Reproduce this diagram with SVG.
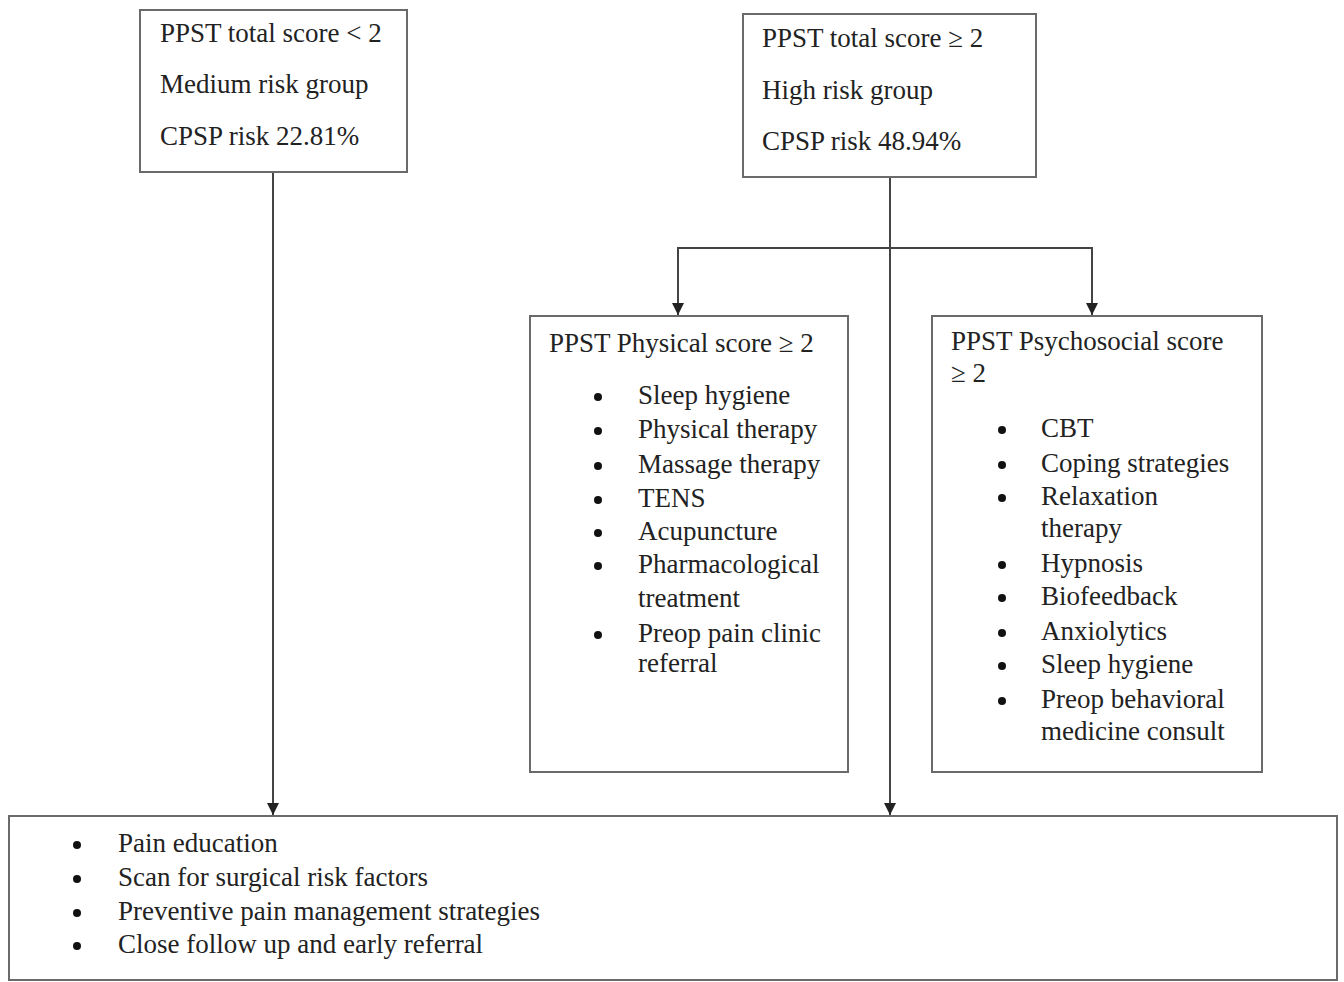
<svg xmlns="http://www.w3.org/2000/svg" width="1344" height="982" viewBox="0 0 1344 982">
<defs>
<style>
.box{fill:#fff;stroke:#6a6a6a;stroke-width:2}
.t{font-family:"Liberation Serif","Times New Roman",serif;font-size:27px;fill:#222}
.c{fill:none;stroke:#444;stroke-width:2}
.b{fill:#111}
</style>
<marker id="ah" viewBox="0 0 10 10" refX="10" refY="5" markerWidth="6" markerHeight="6" markerUnits="strokeWidth" orient="auto">
<path d="M0,0 L10,5 L0,10 Z" fill="#222"/>
</marker>
</defs>
<rect width="1344" height="982" fill="#fff"/>
<g id="connectors">
<line class="c" x1="273" y1="172" x2="273" y2="815" marker-end="url(#ah)"/>
<line class="c" x1="890" y1="177" x2="890" y2="815" marker-end="url(#ah)"/>
<polyline class="c" points="678,315 678,248 1092,248 1092,315" fill="none"/>
<line class="c" x1="678" y1="290" x2="678" y2="315" marker-end="url(#ah)"/>
<line class="c" x1="1092" y1="290" x2="1092" y2="315" marker-end="url(#ah)"/>
</g>
<g id="medium">
<rect class="box" x="140" y="10" width="267" height="162"/>
<text class="t" x="160" y="42">PPST total score &lt; 2</text>
<text class="t" x="160" y="93">Medium risk group</text>
<text class="t" x="160" y="145">CPSP risk 22.81%</text>
</g>
<g id="high">
<rect class="box" x="743" y="14" width="293" height="163"/>
<text class="t" x="762" y="47">PPST total score ≥ 2</text>
<text class="t" x="762" y="99">High risk group</text>
<text class="t" x="762" y="150">CPSP risk 48.94%</text>
</g>
<g id="physical">
<rect class="box" x="530" y="316" width="318" height="456"/>
<text class="t" x="549" y="352">PPST Physical score ≥ 2</text>
<circle class="b" cx="598" cy="397" r="4"/><text class="t" x="638" y="404">Sleep hygiene</text>
<circle class="b" cx="598" cy="431" r="4"/><text class="t" x="638" y="438">Physical therapy</text>
<circle class="b" cx="598" cy="466" r="4"/><text class="t" x="638" y="473">Massage therapy</text>
<circle class="b" cx="598" cy="500" r="4"/><text class="t" x="638" y="507">TENS</text>
<circle class="b" cx="598" cy="533" r="4"/><text class="t" x="638" y="540">Acupuncture</text>
<circle class="b" cx="598" cy="566" r="4"/><text class="t" x="638" y="573">Pharmacological</text>
<text class="t" x="638" y="607">treatment</text>
<circle class="b" cx="598" cy="635" r="4"/><text class="t" x="638" y="642">Preop pain clinic</text>
<text class="t" x="638" y="672">referral</text>
</g>
<g id="psychosocial">
<rect class="box" x="932" y="316" width="330" height="456"/>
<text class="t" x="951" y="350">PPST Psychosocial score</text>
<text class="t" x="951" y="382">≥ 2</text>
<circle class="b" cx="1002" cy="430" r="4"/><text class="t" x="1041" y="437">CBT</text>
<circle class="b" cx="1002" cy="465" r="4"/><text class="t" x="1041" y="472">Coping strategies</text>
<circle class="b" cx="1002" cy="498" r="4"/><text class="t" x="1041" y="505">Relaxation</text>
<text class="t" x="1041" y="537">therapy</text>
<circle class="b" cx="1002" cy="565" r="4"/><text class="t" x="1041" y="572">Hypnosis</text>
<circle class="b" cx="1002" cy="598" r="4"/><text class="t" x="1041" y="605">Biofeedback</text>
<circle class="b" cx="1002" cy="633" r="4"/><text class="t" x="1041" y="640">Anxiolytics</text>
<circle class="b" cx="1002" cy="666" r="4"/><text class="t" x="1041" y="673">Sleep hygiene</text>
<circle class="b" cx="1002" cy="701" r="4"/><text class="t" x="1041" y="708">Preop behavioral</text>
<text class="t" x="1041" y="740">medicine consult</text>
</g>
<g id="common">
<rect class="box" x="9" y="816" width="1328" height="164"/>
<circle class="b" cx="77" cy="845" r="4"/><text class="t" x="118" y="852">Pain education</text>
<circle class="b" cx="77" cy="879" r="4"/><text class="t" x="118" y="886">Scan for surgical risk factors</text>
<circle class="b" cx="77" cy="913" r="4"/><text class="t" x="118" y="920">Preventive pain management strategies</text>
<circle class="b" cx="77" cy="946" r="4"/><text class="t" x="118" y="953">Close follow up and early referral</text>
</g>
</svg>
